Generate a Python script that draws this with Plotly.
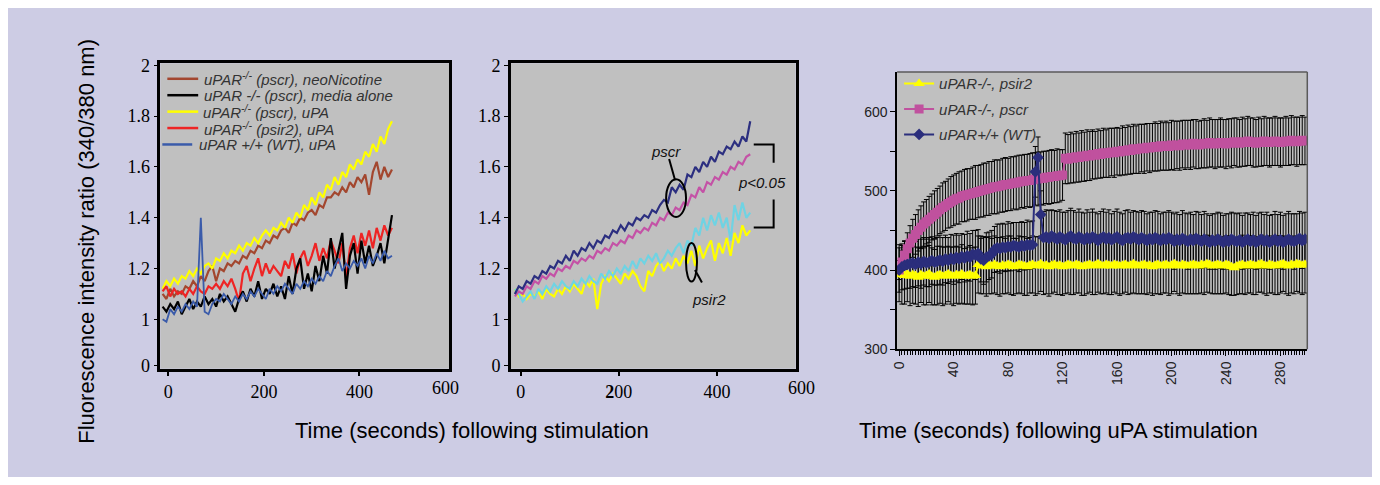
import plotly.graph_objects as go

# The page keeps the browser's default 8px body margin; the figure is sized so that it
# fits exactly inside the 1380x485 window (8 + 1364 + 8, 8 + 469 + 8).
OFF = 8
FW, FH = 1380 - 2 * OFF, 485 - 2 * OFF


def px(x):
    """window pixel x -> paper fraction"""
    return (x - OFF) / FW


def py(y):
    """window pixel y -> paper fraction"""
    return 1 - (y - OFF) / FH


# ---------------- data ----------------
# Panels A and B: sampling times (s)
T_AB = [-12, -4, 4, 12, 20, 28, 36, 44, 52, 60, 68, 76, 84, 92, 100, 108, 116, 124, 132, 140,
        148, 156, 164, 172, 180, 188, 196, 204, 212, 220, 228, 236, 244, 252, 260, 268, 276, 284,
        292, 300, 308, 316, 324, 332, 340, 348, 356, 364, 372, 380, 388, 396, 404, 412, 420, 428,
        436, 444, 452, 460, 468]

A_NEONIC = [1.10, 1.08, 1.12, 1.09, 1.11, 1.10, 1.13, 1.12, 1.15, 1.13,
            1.17, 1.15, 1.19, 1.21, 1.15, 1.20, 1.19, 1.22, 1.21, 1.23,
            1.22, 1.25, 1.24, 1.27, 1.26, 1.29, 1.28, 1.31, 1.30, 1.33,
            1.32, 1.35, 1.36, 1.34, 1.38, 1.37, 1.40, 1.39, 1.42, 1.43,
            1.41, 1.45, 1.44, 1.48, 1.48, 1.50, 1.49, 1.52, 1.50, 1.54,
            1.52, 1.56, 1.54, 1.57, 1.49, 1.58, 1.62, 1.55, 1.60, 1.56,
            1.59]
A_MEDIA = [1.05, 1.03, 1.06, 1.04, 1.07, 1.02, 1.05, 1.08, 1.04, 1.07,
           1.05, 1.09, 1.06, 1.08, 1.05, 1.10, 1.07, 1.09, 1.06, 1.03,
           1.08, 1.11, 1.07, 1.12, 1.09, 1.15, 1.08, 1.12, 1.10, 1.14,
           1.09, 1.13, 1.08, 1.17, 1.10, 1.20, 1.24, 1.12, 1.18, 1.11,
           1.21, 1.15, 1.25, 1.18, 1.32, 1.20, 1.27, 1.34, 1.12, 1.25,
           1.30, 1.18, 1.31, 1.22, 1.29, 1.21, 1.25, 1.30, 1.22, 1.32,
           1.41]
A_PSCR_UPA = [1.12, 1.15, 1.13, 1.16, 1.14, 1.17, 1.16, 1.19, 1.17, 1.20,
              1.18, 1.21, 1.22, 1.20, 1.24, 1.23, 1.26, 1.24, 1.27, 1.26,
              1.29, 1.27, 1.30, 1.29, 1.32, 1.30, 1.33, 1.35, 1.33, 1.36,
              1.35, 1.38, 1.36, 1.40, 1.38, 1.42, 1.40, 1.45, 1.43, 1.48,
              1.45, 1.50, 1.48, 1.53, 1.51, 1.56, 1.53, 1.58, 1.56, 1.61,
              1.59, 1.63, 1.61, 1.66, 1.64, 1.69, 1.66, 1.72, 1.69, 1.75,
              1.78]
A_PSIR2_UPA = [1.11, 1.13, 1.09, 1.12, 1.10, 1.11, 1.09, 1.12, 1.10, 1.13,
               1.11, 1.10, 1.13, 1.12, 1.14, 1.12, 1.15, 1.13, 1.16, 1.12,
               1.07, 1.18, 1.21, 1.15, 1.20, 1.24, 1.17, 1.22, 1.18, 1.21,
               1.19, 1.17, 1.23, 1.20, 1.26, 1.18, 1.24, 1.27, 1.21, 1.25,
               1.30, 1.23, 1.28, 1.24, 1.31, 1.27, 1.22, 1.30, 1.16, 1.28,
               1.33, 1.26, 1.34, 1.29, 1.35, 1.28, 1.36, 1.31, 1.37, 1.33,
               1.36]
A_WT_UPA = [1.00, 0.99, 1.04, 1.02, 1.05, 1.03, 1.06, 1.04, 1.07, 1.05,
            1.40, 1.03, 1.02, 1.06, 1.08, 1.07, 1.10, 1.08, 1.06, 1.09,
            1.07, 1.10, 1.08, 1.11, 1.09, 1.12, 1.10, 1.08, 1.12, 1.10,
            1.13, 1.11, 1.14, 1.12, 1.10, 1.14, 1.12, 1.15, 1.13, 1.16,
            1.14, 1.17, 1.15, 1.19, 1.17, 1.21, 1.24, 1.19, 1.22, 1.20,
            1.23, 1.21, 1.24, 1.20, 1.25, 1.22, 1.26, 1.23, 1.27, 1.24,
            1.25]

B_PSCR_A = [1.10, 1.13, 1.12, 1.15, 1.14, 1.17, 1.16, 1.19, 1.18, 1.21,
            1.20, 1.23, 1.22, 1.25, 1.23, 1.27, 1.25, 1.28, 1.27, 1.30,
            1.28, 1.31, 1.30, 1.33, 1.32, 1.35, 1.34, 1.37, 1.35, 1.38,
            1.37, 1.40, 1.39, 1.41, 1.40, 1.43, 1.42, 1.45, 1.47, 1.46,
            1.52, 1.50, 1.53, 1.51, 1.57, 1.56, 1.60, 1.58, 1.62, 1.60,
            1.64, 1.62, 1.66, 1.65, 1.68, 1.67, 1.70, 1.68, 1.72, 1.70,
            1.78]
B_PSCR_B = [1.09, 1.11, 1.10, 1.13, 1.12, 1.15, 1.14, 1.17, 1.16, 1.18,
            1.17, 1.20, 1.19, 1.21, 1.20, 1.23, 1.22, 1.24, 1.23, 1.25,
            1.24, 1.27, 1.26, 1.28, 1.27, 1.30, 1.29, 1.31, 1.30, 1.33,
            1.32, 1.35, 1.34, 1.36, 1.35, 1.38, 1.37, 1.40, 1.39, 1.42,
            1.41, 1.44, 1.43, 1.46, 1.45, 1.49, 1.48, 1.52, 1.50, 1.54,
            1.53, 1.56, 1.55, 1.58, 1.57, 1.60, 1.59, 1.62, 1.61, 1.64,
            1.65]
B_PSIR2_A = [1.12, 1.10, 1.07, 1.09, 1.11, 1.08, 1.12, 1.10, 1.13, 1.11,
             1.14, 1.12, 1.15, 1.13, 1.12, 1.15, 1.13, 1.16, 1.14, 1.17,
             1.15, 1.14, 1.18, 1.16, 1.19, 1.17, 1.20, 1.18, 1.21, 1.19,
             1.23, 1.20, 1.24, 1.22, 1.25, 1.23, 1.26, 1.22, 1.24, 1.27,
             1.25, 1.28, 1.30, 1.26, 1.31, 1.29, 1.36, 1.33, 1.40, 1.35,
             1.41, 1.37, 1.42, 1.36, 1.40, 1.31, 1.45, 1.39, 1.46, 1.40,
             1.42]
B_PSIR2_B = [1.12, 1.09, 1.10, 1.08, 1.10, 1.09, 1.11, 1.08, 1.12, 1.10,
             1.09, 1.12, 1.10, 1.13, 1.11, 1.14, 1.12, 1.10, 1.15, 1.13,
             1.16, 1.04, 1.14, 1.17, 1.15, 1.18, 1.16, 1.14, 1.18, 1.16,
             1.19, 1.17, 1.13, 1.11, 1.19, 1.17, 1.21, 1.23, 1.19, 1.22,
             1.20, 1.24, 1.21, 1.25, 1.22, 1.27, 1.21, 1.29, 1.24, 1.28,
             1.31, 1.23, 1.30, 1.26, 1.32, 1.25, 1.34, 1.30, 1.37, 1.33,
             1.35]

# Panel C: sampling times (s) every 2 s, 0..298
T_C = list(range(0, 300, 2))
C_PSIR2 = [396, 394, 393, 395, 392, 394, 393, 391, 394, 392,
           393, 395, 392, 391, 393, 394, 392, 393, 395, 393,
           392, 394, 393, 395, 392, 393, 394, 392, 393,
           407, 405, 406, 404, 406, 405, 407, 405, 404, 406,
           405, 407, 406, 404, 405, 407, 406, 405, 404, 406,
           407, 405, 406, 408, 405, 406, 404, 406, 407, 405,
           406, 404, 405, 407, 406, 405, 407, 406, 404, 405,
           406, 407, 405, 406, 408, 406, 405, 407, 406, 405,
           407, 406, 405, 406, 407, 405, 406, 408, 406, 405,
           406, 407, 405, 406, 404, 406, 407, 405, 406, 407,
           405, 406, 408, 406, 405, 407, 406, 405, 406, 407,
           406, 405, 407, 406, 408, 407, 405, 406, 407, 406,
           405, 407, 406, 404, 403, 405, 406, 407, 405, 406,
           407, 406, 405, 407, 408, 406, 405, 407, 406, 405,
           406, 407, 408, 406, 405, 407, 406, 408, 407, 406,
           407]
C_PSIR2_ERR = [36, 37, 36, 35, 37, 36, 36, 37, 35, 36,
               37, 36, 36, 35, 37, 36, 37, 36, 35, 36,
               37, 36, 36, 37, 35, 36, 37, 36, 36, 36,
               35, 36, 37, 36, 35, 36, 36, 37, 36, 35,
               36, 37, 36, 35, 36, 36, 37, 36, 35, 36,
               37, 36, 35, 36, 36, 37, 36, 35, 36, 37,
               36, 35, 36, 37, 36, 36, 35, 36, 37, 36,
               35, 36, 37, 36, 36, 35, 36, 37, 36, 35,
               36, 37, 36, 35, 36, 36, 37, 36, 35, 36,
               37, 36, 35, 36, 36, 37, 36, 35, 36, 37,
               36, 35, 36, 37, 36, 36, 35, 36, 37, 36,
               35, 36, 37, 36, 36, 35, 36, 37, 36, 35,
               36, 37, 36, 35, 36, 36, 37, 36, 35, 36,
               37, 36, 35, 36, 36, 37, 36, 35, 36, 37,
               36, 35, 36, 37, 36, 36, 35, 36, 37, 36]
C_PSCR = [400, 410, 419, 427, 434, 440, 445, 450, 454, 458, 461,
          464, 467, 470, 473, 476, 479, 481, 484, 486, 488,
          490, 491, 493, 494, 495, 496, 497, 498, 499, 500,
          501, 502, 503, 504, 505, 505, 506, 507, 508, 508,
          509, 510, 510, 511, 512, 512, 513, 513, 514, 515,
          515, 516, 516, 517, 517, 518, 518, 519, 519, 520,
          541, 540, 542, 541, 543, 542, 544, 543, 545, 544,
          546, 545, 547, 546, 548, 547, 548, 549, 548, 550,
          549, 551, 550, 552, 551, 553, 552, 553, 554, 553,
          555, 554, 555, 556, 555, 557, 556, 557, 556, 558,
          557, 558, 557, 559, 558, 559, 558, 560, 559, 558,
          559, 560, 559, 561, 560, 559, 560, 561, 560, 559,
          561, 560, 562, 561, 560, 562, 561, 563, 562, 561,
          560, 562, 561, 563, 562, 561, 562, 563, 562, 561,
          562, 563, 562, 564, 563, 562, 563, 564, 563]
C_PSCR_ERR = [12, 15, 18, 20, 22, 24, 25, 26, 27, 28, 28,
              29, 29, 30, 30, 30, 31, 31, 31, 32, 32,
              32, 33, 32, 33, 33, 32, 33, 34, 33, 33,
              34, 33, 34, 33, 34, 34, 33, 34, 34, 33,
              34, 33, 34, 34, 33, 34, 33, 34, 34, 33,
              34, 33, 34, 33, 34, 34, 33, 34, 33, 32,
              32, 31, 32, 31, 32, 31, 32, 31, 32, 31,
              31, 30, 31, 30, 31, 30, 31, 30, 31, 30,
              30, 31, 30, 31, 30, 31, 30, 31, 30, 31,
              30, 31, 30, 31, 30, 31, 30, 31, 30, 31,
              31, 30, 31, 30, 31, 30, 31, 30, 31, 30,
              30, 31, 30, 31, 30, 31, 30, 31, 30, 31,
              30, 31, 30, 31, 30, 31, 30, 31, 30, 31,
              30, 31, 30, 31, 30, 31, 30, 31, 30, 31,
              30, 31, 30, 31, 30, 31, 30, 31, 30]
C_WT = [400, 404, 406, 407, 408,
        409, 407, 410, 408, 411, 409, 410, 412, 410, 411,
        413, 411, 414, 412, 415, 413, 416, 414, 417, 415,
        418, 416, 420, 419, 421, 414, 412, 416, 418, 420,
        426, 428, 427, 429, 428, 430, 429, 431, 430, 429, 431, 430, 432, 431,
        432, 524, 542, 470, 441,
        442, 440, 443, 441, 439, 442, 440, 438, 441, 443,
        440, 439, 442, 440, 438, 441, 439, 442, 440, 437,
        440, 442, 439, 441, 438, 440, 442, 439, 437, 440,
        441, 439, 442, 440, 438, 441, 439, 437, 440, 438,
        441, 439, 437, 440, 438, 441, 439, 436, 439, 437,
        440, 438, 436, 439, 437, 440, 438, 436, 439, 437,
        435, 438, 436, 439, 437, 435, 438, 436, 439, 437,
        436, 438, 435, 437, 439, 436, 438, 435, 437, 439,
        436, 438, 435, 437, 439, 436, 438, 435, 437, 439,
        437, 436, 438, 440, 437, 439]
C_WT_ERR = [28, 29, 30, 30, 31, 30, 29, 30, 31, 30,
            30, 31, 30, 29, 30, 31, 30, 30, 29, 30,
            31, 30, 30, 29, 30, 31, 30, 30, 31, 30,
            29, 30, 31, 30, 30, 29, 30, 31, 30, 30,
            31, 30, 29, 30, 31, 30, 30, 31, 30,
            30, 32, 26, 30, 33,
            34, 35, 33, 34, 35, 34, 33, 35, 34, 35,
            35, 34, 35, 33, 34, 35, 34, 35, 33, 34,
            34, 35, 34, 35, 33, 34, 35, 34, 34, 35,
            35, 34, 33, 34, 35, 34, 35, 34, 33, 35,
            34, 35, 34, 33, 35, 34, 34, 35, 34, 33,
            35, 34, 35, 34, 33, 34, 35, 34, 35, 34,
            34, 33, 35, 34, 35, 34, 33, 35, 34, 35,
            35, 34, 34, 35, 33, 34, 35, 34, 35, 34,
            34, 35, 34, 33, 35, 34, 35, 34, 34, 35,
            34, 35, 33, 34, 35, 34]

# tick definitions
Y_AB_TICKVALS = [0.817, 1.0, 1.2, 1.4, 1.6, 1.8, 2.0]
Y_AB_TICKTEXT = ["0", "1", "1.2", "1.4", "1.6", "1.8", "2"]
X_AB_TICKVALS = [0, 200, 400]
X_A_TICKTEXT = ["0", "200", "400"]
X_B_TICKTEXT = ["0", "<b>2</b>00", "400"]
Y_C_TICKVALS = [300, 350, 400, 450, 500, 550, 600]
Y_C_TICKTEXT = ["300", "", "400", "", "500", "", "600"]
X_C_TICKVALS = [0, 40, 80, 120, 160, 200, 240, 280]

# ---------------- styles ----------------
LAV = "#CDCCE4"
GREY = "#C0C0C0"
SERIF = "Liberation Serif, Times New Roman, serif"
SANS = "Liberation Sans, Arial, sans-serif"
TXT = "#333333"

A_SERIES = [  # draw order
    (A_NEONIC, "#A3472F", 2.2),
    (A_PSCR_UPA, "#FFFF00", 2.2),
    (A_PSIR2_UPA, "#EE2424", 2.2),
    (A_MEDIA, "#000000", 2.2),
    (A_WT_UPA, "#3A5BAA", 1.8),
]
B_SERIES = [
    (B_PSIR2_B, "#FFFF00"),
    (B_PSIR2_A, "#6FD3E3"),
    (B_PSCR_B, "#C452A6"),
    (B_PSCR_A, "#2C2F80"),
]

fig = go.Figure()

for vals, col, lw in A_SERIES:
    fig.add_trace(go.Scatter(x=T_AB[:len(vals)], y=vals, mode="lines",
                             line=dict(color=col, width=lw), showlegend=False,
                             xaxis="x", yaxis="y"))
for vals, col in B_SERIES:
    fig.add_trace(go.Scatter(x=T_AB[:len(vals)], y=vals, mode="lines",
                             line=dict(color=col, width=2.2), showlegend=False,
                             xaxis="x2", yaxis="y2"))

# Panel C: error bars first (behind all bands)
for vals, err in [(C_PSIR2, C_PSIR2_ERR), (C_PSCR, C_PSCR_ERR), (C_WT, C_WT_ERR)]:
    fig.add_trace(go.Scatter(x=T_C[:len(vals)], y=vals, mode="markers",
                             marker=dict(size=1, color="rgba(0,0,0,0)"),
                             error_y=dict(type="data", array=err, color="black",
                                          thickness=1, width=2.5),
                             showlegend=False, xaxis="x3", yaxis="y3", hoverinfo="skip"))

C_SERIES = [
    ("<i>uPAR-/-, psir2</i>", C_PSIR2, "#FFFF00", "triangle-up", 10),
    ("<i>uPAR-/-, pscr</i>", C_PSCR, "#C0519E", "square", 9),
    ("<i>uPAR+/+ (WT)</i>", C_WT, "#2B2E7C", "diamond", 9),
]
for i, (name, vals, col, sym, ms) in enumerate(C_SERIES):
    fig.add_trace(go.Scatter(x=T_C[:len(vals)], y=vals, mode="lines+markers", name=name,
                             line=dict(color=col, width=2),
                             marker=dict(symbol=sym, size=ms, color=col, line=dict(width=0)),
                             legend="legend2", legendgroup=str(i),
                             xaxis="x3", yaxis="y3"))

ax_common = dict(showgrid=False, zeroline=False, ticks="outside", tickcolor="black")

layout = dict(
    width=FW, height=FH, autosize=False, margin=dict(l=0, r=0, t=0, b=0, pad=0),
    paper_bgcolor=LAV, plot_bgcolor=GREY,
    xaxis=dict(**ax_common, domain=[px(155), px(445)], range=[-16.7, 587.5],
               tickvals=X_AB_TICKVALS, ticktext=X_A_TICKTEXT, ticklen=5, tickwidth=1.5,
               showline=True, mirror=True, linecolor="black", linewidth=2.5,
               tickfont=dict(family=SERIF, size=18, color="black"), anchor="y"),
    yaxis=dict(**ax_common, domain=[py(373), py(57)], range=[0.806, 2.008],
               tickvals=Y_AB_TICKVALS, ticktext=Y_AB_TICKTEXT, ticklen=4, tickwidth=1.2,
               showline=True, mirror=True, linecolor="black", linewidth=2.5,
               tickfont=dict(family=SERIF, size=18, color="black"), anchor="x"),
    xaxis2=dict(**ax_common, domain=[px(507), px(793)], range=[-20.3, 560.4],
                tickvals=X_AB_TICKVALS, ticktext=X_B_TICKTEXT, ticklen=5, tickwidth=1.5,
                showline=True, mirror=True, linecolor="black", linewidth=2.5,
                tickfont=dict(family=SERIF, size=18, color="black"), anchor="y2"),
    yaxis2=dict(**ax_common, domain=[py(373), py(57)], range=[0.806, 2.008],
                tickvals=Y_AB_TICKVALS, ticktext=Y_AB_TICKTEXT, ticklen=4, tickwidth=1.2,
                showline=True, mirror=True, linecolor="black", linewidth=2.5,
                tickfont=dict(family=SERIF, size=18, color="black"), anchor="x2"),
    xaxis3=dict(**ax_common, domain=[px(895), px(1307)], range=[-1.5, 299.7],
                tickvals=X_C_TICKVALS, tickangle=-90, ticklen=5, tickwidth=1,
                minor=dict(dtick=2, tick0=0, ticks="outside", ticklen=4, tickcolor="black", tickwidth=1),
                showline=True, linecolor="black", linewidth=1.5,
                tickfont=dict(family=SANS, size=14, color="#222222"),
                anchor="y3"),
    yaxis3=dict(**ax_common, domain=[py(353), py(66)], range=[300, 650],
                tickvals=Y_C_TICKVALS, ticktext=Y_C_TICKTEXT, ticklen=5, tickwidth=1,
                showline=True, linecolor="black", linewidth=1.5,
                tickfont=dict(family=SANS, size=14, color="#222222"), anchor="x3"),
    legend2=dict(x=px(897), y=py(61), xanchor="left", yanchor="top",
                 bgcolor="rgba(0,0,0,0)", borderwidth=0, tracegroupgap=3,
                 font=dict(family=SANS, size=15, color=TXT), itemwidth=30),
    showlegend=True,
)
fig.update_layout(**layout)

shapes = []
# panel C top/right frame lines (grey)
shapes += [
    dict(type="line", x0=px(895), x1=px(1307), y0=py(66), y1=py(66), line=dict(color="#5a5a5a", width=1.5)),
    dict(type="line", x0=px(1307), x1=px(1307), y0=py(66), y1=py(353), line=dict(color="#5a5a5a", width=1.5)),
]
# manual legend for panel A
A_LEG = [
    ("uPAR<sup>-/-</sup> (pscr), neoNicotine", "#A3472F", 73, 162, 193, 197),
    ("uPAR -/- (pscr), media alone", "#000000", 90, 162, 193, 197),
    ("uPAR<sup>-/-</sup> (pscr), uPA", "#FFFF00", 107, 162, 193, 196),
    ("uPAR<sup>-/-</sup> (psir2), uPA", "#EE2424", 124, 162, 193, 197),
    ("uPAR +/+ (WT), uPA", "#3A5BAA", 141, 157, 187, 192),
]
annotations = []
for text, col, yy, xa, xb, xt in A_LEG:
    shapes.append(dict(type="line", x0=px(xa), x1=px(xb), y0=py(yy), y1=py(yy),
                       line=dict(color=col, width=2.5)))
    annotations.append(dict(x=px(xt), y=py(yy), xanchor="left", yanchor="middle",
                            text="<i>" + text + "</i>",
                            font=dict(family=SANS, size=15, color=TXT)))
# panel B markings
shapes += [
    dict(type="circle", x0=px(663), x1=px(683), y0=py(216), y1=py(177), line=dict(color="black", width=2)),
    dict(type="path", path=f"M {px(666)} {py(156)} L {px(672)} {py(178)}", line=dict(color="black", width=2)),
    dict(type="circle", x0=px(683), x1=px(694), y0=py(283), y1=py(243), line=dict(color="black", width=2)),
    dict(type="path", path=f"M {px(692)} {py(271)} L {px(699)} {py(284)}", line=dict(color="black", width=2)),
    dict(type="path", path=f"M {px(751)} {py(141)} L {px(771)} {py(141)} L {px(771)} {py(160)}",
         line=dict(color="black", width=2)),
    dict(type="path", path=f"M {px(771)} {py(198)} L {px(771)} {py(227)} L {px(751)} {py(227)}",
         line=dict(color="black", width=2)),
]
for s in shapes:
    s.setdefault("xref", "paper")
    s.setdefault("yref", "paper")

annotations += [
    dict(x=px(663), y=py(148), text="<i>pscr</i>", font=dict(family=SANS, size=15, color="#111111")),
    dict(x=px(706), y=py(301), text="<i>psir2</i>", font=dict(family=SANS, size=15, color="#111111")),
    dict(x=px(759), y=py(180), text="<i>p<0.05</i>", font=dict(family=SANS, size=15, color="#111111")),
    dict(x=px(441), y=py(393), text="600", font=dict(family=SERIF, size=18, color="black")),
    dict(x=px(799), y=py(393), text="600", font=dict(family=SERIF, size=18, color="black")),
    dict(x=px(80), y=py(241), text="Fluorescence intensity ratio (340/380 nm)", textangle=-90,
         font=dict(family=SANS, size=22, color="black")),
    dict(x=px(468), y=py(437), text="Time (seconds) following stimulation",
         font=dict(family=SANS, size=22, color="black")),
    dict(x=px(1057), y=py(437), text="Time (seconds) following uPA stimulation",
         font=dict(family=SANS, size=22, color="black")),
]
for a in annotations:
    a.setdefault("xref", "paper")
    a.setdefault("yref", "paper")
    a.setdefault("showarrow", False)
    a.setdefault("xanchor", "center")
    a.setdefault("yanchor", "middle")

fig.update_layout(shapes=shapes, annotations=annotations)
fig.write_html("out.html", config={"displayModeBar": False})
